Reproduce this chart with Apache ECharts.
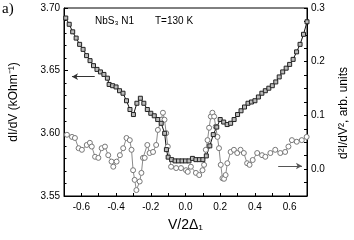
<!DOCTYPE html>
<html><head><meta charset="utf-8">
<script src="https://cdn.jsdelivr.net/npm/echarts@6/dist/echarts.min.js"></script>
<style>html,body{margin:0;padding:0;background:#fff}#c{width:354px;height:240px}</style>
</head><body><div id="c"></div>
<script>
// dI/dV (left axis, kOhm^-1)
var vBlack = [-0.69,-0.67,-0.65,-0.63,-0.61,-0.59,-0.57,-0.55,-0.53,-0.51,-0.49,-0.47,-0.45,-0.44,-0.42,-0.40,-0.38,-0.36,-0.34,-0.32,-0.30,-0.28,-0.26,-0.24,-0.22,-0.20,-0.18,-0.16,-0.14,-0.12,-0.11,-0.10,-0.08,-0.06,-0.04,-0.02,0.00,0.02,0.04,0.06,0.08,0.10,0.12,0.14,0.16,0.18,0.20,0.22,0.24,0.26,0.28,0.30,0.32,0.34,0.36,0.38,0.40,0.42,0.44,0.46,0.48,0.50,0.52,0.54,0.56,0.58,0.60,0.62,0.64,0.66,0.68,0.70];
var dIdV = [3.692,3.687,3.681,3.676,3.671,3.667,3.662,3.658,3.654,3.651,3.649,3.647,3.644,3.639,3.638,3.637,3.634,3.632,3.626,3.619,3.615,3.624,3.628,3.624,3.619,3.616,3.614,3.611,3.608,3.600,3.587,3.581,3.579,3.578,3.578,3.578,3.578,3.578,3.580,3.579,3.579,3.579,3.582,3.590,3.599,3.605,3.611,3.609,3.607,3.608,3.611,3.615,3.618,3.621,3.624,3.625,3.626,3.629,3.632,3.634,3.636,3.638,3.641,3.645,3.649,3.652,3.655,3.659,3.665,3.671,3.679,3.689];
// d2I/dV2 (right axis, arb. units)
var vGray = [-0.683,-0.654,-0.637,-0.616,-0.597,-0.569,-0.551,-0.540,-0.521,-0.502,-0.483,-0.464,-0.445,-0.426,-0.416,-0.397,-0.378,-0.359,-0.340,-0.321,-0.311,-0.302,-0.293,-0.283,-0.264,-0.254,-0.245,-0.235,-0.220,-0.207,-0.187,-0.169,-0.159,-0.140,-0.130,-0.121,-0.111,-0.102,-0.083,-0.054,-0.026,0.003,0.013,0.031,0.060,0.079,0.098,0.107,0.117,0.127,0.136,0.146,0.155,0.165,0.174,0.184,0.193,0.203,0.213,0.222,0.231,0.241,0.260,0.279,0.298,0.317,0.336,0.355,0.369,0.387,0.413,0.441,0.460,0.489,0.517,0.546,0.574,0.593,0.613,0.641,0.670,0.698];
var d2I = [0.064,0.060,0.058,0.039,0.036,0.045,0.049,0.042,0.023,0.021,0.039,0.042,0.026,0.014,0.0045,0.014,0.026,0.039,0.058,0.054,0.036,-0.002,-0.020,-0.039,-0.023,-0.007,0.021,0.021,0.045,0.030,0.032,0.045,0.073,0.092,0.105,0.092,0.067,0.042,0.0045,0.002,0.002,-0.002,-0.005,0.0045,-0.007,-0.011,-0.002,0.008,0.036,0.054,0.077,0.098,0.105,0.098,0.079,0.060,0.039,0.008,-0.017,-0.018,-0.011,0.011,0.032,0.036,0.030,0.036,0.030,0.011,0.008,0.017,0.030,0.026,0.023,0.030,0.036,0.030,0.032,0.042,0.054,0.051,0.054,0.060];

function pairs(xs, ys){ return xs.map(function(x,i){ return [x, ys[i]]; }); }
var font = 'Liberation Sans, Arial, sans-serif';
var chart = echarts.init(document.getElementById('c'), null, {renderer:'canvas'});
chart.setOption({
  animation:false,
  grid:{left:62,right:47,top:8,bottom:44,show:true,borderColor:'#000',borderWidth:1,backgroundColor:'transparent'},
  xAxis:{type:'value',min:-0.7,max:0.7,interval:0.1,
    name:'V/2Δ₁',nameLocation:'middle',nameGap:22,
    nameTextStyle:{fontFamily:font,fontSize:14,color:'#000'},
    axisLine:{onZero:false,lineStyle:{color:'#000',width:1}},
    axisTick:{inside:true,length:3,lineStyle:{color:'#000'}},
    splitLine:{show:false},
    axisLabel:{fontFamily:font,fontSize:10,color:'#000',margin:6,
      formatter:function(v){ return (Math.round(v*10)%2===0) ? v.toFixed(1) : ''; }}
  },
  yAxis:[{type:'value',min:3.55,max:3.70,interval:0.05,position:'left',
    name:'dI/dV (kOhm⁻¹)',nameLocation:'middle',nameGap:44,
    nameTextStyle:{fontFamily:font,fontSize:12,color:'#000'},
    axisLine:{show:true,onZero:false,lineStyle:{color:'#000',width:1}},
    axisTick:{inside:true,length:4,lineStyle:{color:'#000'}},
    minorTick:{show:true,splitNumber:5,length:2.5,lineStyle:{color:'#000'}},
    splitLine:{show:false},
    axisLabel:{fontFamily:font,fontSize:10,color:'#000',margin:4,
      formatter:function(v){ return v.toFixed(2); }}
  },{type:'value',min:-0.05,max:0.3,interval:0.025,position:'right',
    axisLine:{show:true,onZero:false,lineStyle:{color:'#000',width:1}},
    axisTick:{inside:true,length:3,lineStyle:{color:'#000'}},
    splitLine:{show:false},
    axisLabel:{fontFamily:font,fontSize:10,color:'#000',margin:4,
      formatter:function(v){ return (Math.round(v*40)%4===0) ? v.toFixed(1) : ''; }}
  }],
  series:[{
    type:'line',yAxisIndex:1,data:pairs(vGray,d2I),
    symbol:'circle',symbolSize:5,
    lineStyle:{color:'#8a8a8a',width:1},
    itemStyle:{color:'#fff',borderColor:'#777',borderWidth:1},
    markLine:{silent:true,symbol:['none','arrow'],symbolSize:[5,6],label:{show:false},
      lineStyle:{color:'#555',width:1,type:'solid'},
      data:[[{coord:[0.534,0.0058]},{coord:[0.671,0.0058]}]]}
  },{
    type:'line',yAxisIndex:0,data:pairs(vBlack,dIdV),
    symbol:'rect',symbolSize:4,
    lineStyle:{color:'#111',width:1},
    itemStyle:{color:'#bbb',borderColor:'#222',borderWidth:1},
    markLine:{silent:true,symbol:['arrow','none'],symbolSize:[5,6],label:{show:false},
      lineStyle:{color:'#333',width:1,type:'solid'},
      data:[[{coord:[-0.654,3.6452]},{coord:[-0.523,3.6452]}]]}
  }],
  graphic:[
    {type:'text',left:2,top:2,style:{text:'a)',fontFamily:'Liberation Serif, Times New Roman, serif',fontSize:15,fill:'#000'}},
    {type:'text',left:95,top:16,style:{text:'NbS₃ N1',fontFamily:font,fontSize:10,fill:'#000'}},
    {type:'text',left:155,top:16,style:{text:'T=130 K',fontFamily:font,fontSize:10,fill:'#000'}},
    {type:'text',x:344,y:113,rotation:Math.PI/2,style:{text:'d²I/dV², arb. units',fontFamily:font,fontSize:12,fill:'#000',align:'center',verticalAlign:'middle'}}
  ]
});
</script></body></html>
